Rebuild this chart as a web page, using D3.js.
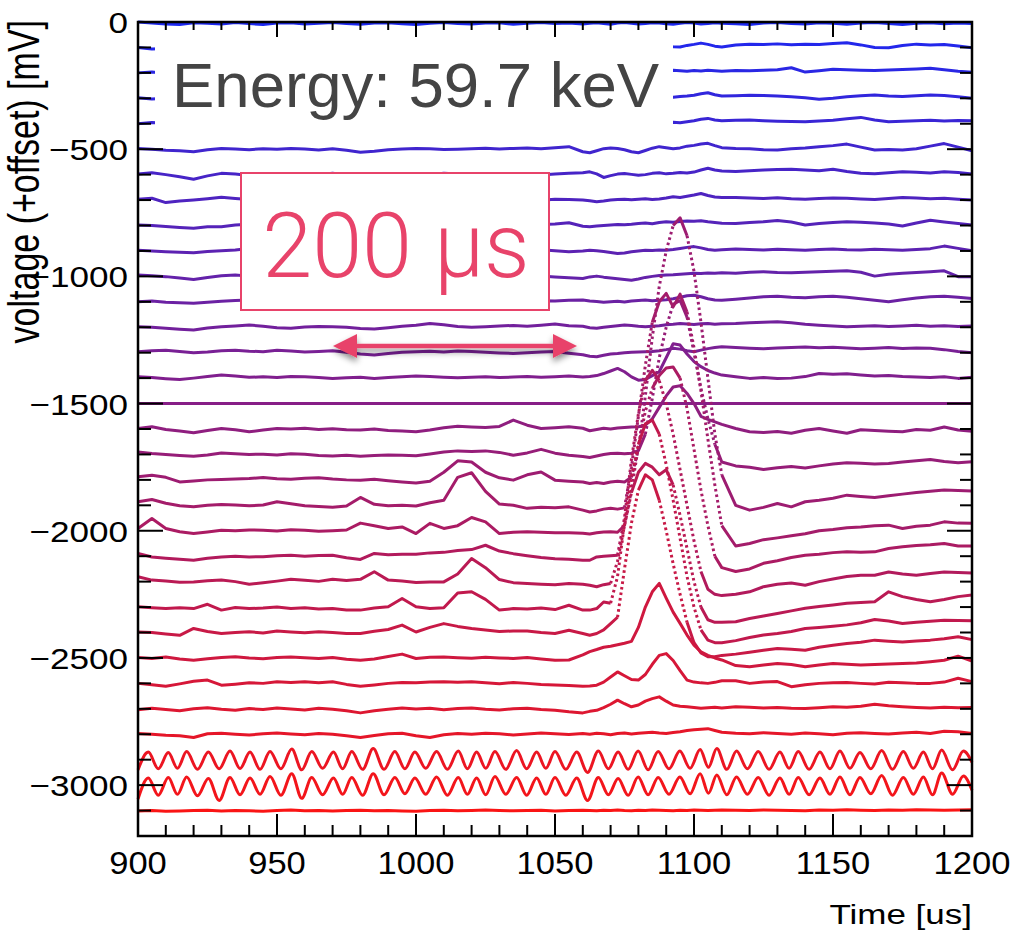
<!DOCTYPE html>
<html><head><meta charset="utf-8">
<script src="https://cdn.jsdelivr.net/npm/d3@7"></script>
<style>body{margin:0;background:#fff}svg{display:block}</style>
</head><body>
<svg id="chart" width="1014" height="935"></svg>
<script>
// ---------- data ----------
const sampleTimes = [900,905,910,915,920,925,930,935,940,945,950,955,960,965,970,975,980,985,990,995,1000,1005,1010,1015,1020,1025,1030,1035,1040,1045,1050,1055,1060,
1062.5,1065,1067.5,1070,1072.5,1075,1077.5,1080,1082.5,1085,1087.5,1090,1092.5,1095,1097.5,1100,1102.5,1105,1107.5,1110,
1115,1120,1125,1130,1135,1140,1145,1150,1155,1160,1165,1170,1175,1180,1185,1190,1195,1200];
const traceOffsets = [0,-100,-200,-300,-400,-500,-600,-700,-800,-900,-1000,-1100,-1200,-1300,-1400,-1500,-1600,-1700,-1800,-1900,-2000,-2100,-2200,-2300,-2400,-2500,-2600,-2700,-2800,-2900,-3000,-3100];
// deviations (mV) from each trace's offset, at sampleTimes
const trace0 = [0,-4,-8,-10,-3,-5,-8,-2,-6,-10,-4,-3,-8,-5,-2,-6,-9,-4,-3,-7,-10,-5,-2,-6,-8,-4,-3,-9,-5,-2,-6,-4,-8,
 -5,-3,-6,-9,-4,-2,-5,-8,-6,-3,-4,-7,-9,-5,-2,-4,-8,-6,-3,-5,
 -7,-10,-4,-2,-6,-8,-3,-5,-9,-4,-2,-6,-10,-5,-3,-7,-4,-6];
const trace1 = [0,-6,-4,2,5,0,-3,4,6,1,-2,3,5,0,-4,2,6,3,-1,4,2,-3,1,5,3,-2,0,4,6,2,-1,3,5,
 4,2,6,3,0,5,7,3,1,4,6,5,3,2,8,12,17,12,5,2,
 10,13,12,14,11,13,12,15,18,10,0,-1,8,13,10,12,6,-1];
const trace2 = [0,3,-2,4,6,1,-3,2,5,3,0,4,-2,1,5,2,-1,3,6,2,0,4,1,-2,3,5,2,0,4,3,-1,2,5,
 3,6,4,1,5,8,4,2,6,9,7,5,10,8,6,9,7,10,8,6,
 9,8,10,12,20,3,8,14,12,10,9,11,13,15,18,12,6,2];
const trace3 = [2,-3,0,4,-2,1,5,0,-4,2,3,-1,4,1,-3,2,5,0,-2,3,1,4,-1,2,6,0,-3,2,4,1,-2,3,5,
 2,4,6,3,5,7,4,6,3,5,8,6,4,7,9,12,18,22,14,9,
 10,12,11,9,6,2,-4,0,6,10,13,9,7,10,13,11,6,0];
const trace4 = [0,5,2,-2,3,0,4,1,-3,2,5,0,-2,3,1,4,0,-3,2,5,1,-1,3,2,-2,4,1,0,3,-1,2,4,1,
 3,0,4,2,5,1,3,6,2,4,5,3,6,4,8,12,18,21,15,12,
 14,15,12,10,9,8,11,14,20,25,15,8,10,12,14,11,13,12];
const trace5 = [3,0,-4,-6,-10,-2,3,1,-2,2,0,3,1,-3,2,-4,-12,-8,-2,1,3,2,-1,0,2,4,1,3,5,2,6,10,-10,
 -14,-6,2,5,3,-2,-10,-14,-5,4,10,6,2,5,12,15,20,23,14,6,
 3,2,-2,-3,2,5,10,14,20,8,-3,-1,-3,2,12,22,8,-6];
const trace6 = [2,7,0,-8,-18,-5,5,2,-3,4,1,-2,3,0,5,-1,2,4,-3,1,3,0,5,2,-2,1,4,0,3,-1,2,5,7,
 11,3,-11,-4,2,4,1,-2,0,5,7,3,5,8,6,10,18,25,18,14,
 12,15,18,20,21,18,15,21,12,5,3,7,11,9,6,11,8,2];
const trace7 = [3,7,-10,-4,0,5,11,6,2,-2,4,1,-3,2,5,0,3,-1,4,2,-2,1,5,3,0,-3,2,4,1,-1,3,2,0,
 -3,-7,-4,0,2,3,1,3,5,2,4,8,13,10,15,20,26,18,12,10,
 10,8,6,9,5,3,6,8,7,4,2,6,10,8,5,7,3,0];
const trace8 = [2,0,-4,-8,-11,-5,-5,2,5,1,-2,3,0,4,-1,2,5,0,-3,2,4,1,-2,3,0,5,2,-1,3,4,6,11,-3,
 -5,-2,0,2,4,3,5,8,10,7,12,15,13,16,18,17,19,15,12,9,
 8,12,15,20,14,2,8,12,15,13,10,6,-2,10,21,14,8,2];
const trace9 = [3,0,-3,-5,-7,-2,1,4,10,5,2,-1,3,0,-2,4,1,-3,2,5,0,-2,3,1,4,-1,2,0,3,5,1,-3,0,
 3,1,-2,-6,-10,-8,-3,0,3,2,4,3,6,10,14,17,12,6,3,5,
 8,6,4,7,5,3,6,8,5,4,7,5,3,6,9,19,10,1];
const trace10 = [5,2,-1,-6,-12,-4,2,5,1,-2,3,0,-3,2,4,-1,1,3,-2,0,4,2,-1,3,1,-3,2,0,4,1,-2,-5,-8,
 -2,1,-3,-6,-9,-12,-15,-10,-4,0,3,5,6,8,10,12,11,13,12,14,
 12,16,18,15,14,16,18,20,22,16,1,8,12,15,18,22,-1,-1];
const trace11 = [0,3,-2,-4,-6,-2,2,5,7,3,0,-2,4,1,-1,3,5,2,-3,0,4,1,2,-2,3,5,0,2,-1,4,3,6,7,
 3,1,-2,0,2,-1,3,5,7,4,6,8,12,18,24,26,20,12,7,6,
 10,15,20,22,18,16,20,22,18,12,6,0,8,15,20,22,18,13];
const trace12 = [2,0,-4,-8,-11,-3,2,5,9,4,-2,-4,1,3,2,0,-5,-7,-2,4,8,15,10,3,0,2,5,7,4,8,13,6,4,
 -2,-4,0,3,6,9,7,4,2,4,6,10,12,15,13,11,14,15,12,14,
 15,18,20,22,18,12,8,5,2,4,6,3,5,8,4,6,3,5];
const trace13 = [4,8,10,5,0,3,8,10,6,4,10,7,3,5,8,2,-5,-9,-3,2,4,6,3,7,5,2,-1,-3,0,3,5,-2,-8,
 -14,-16,-10,-5,-3,0,2,3,4,5,8,12,17,14,8,4,10,16,20,23,
 20,17,15,18,20,22,19,21,18,15,17,20,16,18,17,12,5,0];
const trace14 = [5,2,-2,-5,0,6,12,8,3,5,2,6,5,2,-1,1,3,-1,2,5,8,6,3,1,3,5,2,4,6,3,5,8,4,
 6,10,18,28,38,25,5,-8,-5,10,25,80,135,130,95,65,45,30,20,12,
 5,-1,2,-1,0,6,18,15,17,12,8,10,6,4,2,5,-1,3];
const trace15 = [0,0,0,0,0,0,0,0,0,0,0,0,0,0,0,0,0,0,0,0,0,0,0,0,0,0,0,0,0,0,0,0,0,
 0,0,0,0,0,0,0,0,0,0,0,0,0,0,0,0,0,0,0,0,
 0,0,0,0,0,0,0,0,0,0,0,0,0,0,0,0,0,0];
const trace16 = [2,9,-2,-8,-15,-6,2,-3,-11,-4,2,0,3,-2,1,-3,-4,0,-6,-8,-11,-4,5,11,8,6,10,35,15,2,5,9,3,
 -7,-2,3,0,4,6,8,9,15,40,85,130,165,170,140,100,50,38,28,18,
 2,-11,-14,-10,-17,-5,2,-8,-17,-3,-6,-9,-11,-2,-5,8,-4,-9];
const trace17 = [10,4,0,-4,-7,-2,6,3,0,1,-2,3,1,-4,-6,-3,-7,-4,-2,-3,-5,2,10,14,12,14,8,-3,6,20,5,-3,-8,
 -12,-6,0,4,5,3,5,15,80,220,380,500,590,605,540,400,260,140,40,-30,
 -45,-50,-59,-52,-47,-53,-45,-38,-33,-35,-38,-36,-30,-25,-20,-28,-33,-29];
const trace18 = [12,18,10,-8,-4,0,1,3,5,9,4,2,6,8,3,0,-1,2,-3,-8,-12,-5,30,75,70,30,8,-1,20,31,-1,-5,-8,
 -14,-10,-14,-8,-5,-8,10,120,330,560,760,900,1000,1030,960,820,620,400,180,20,
 -100,-119,-108,-93,-106,-86,-80,-72,-60,-65,-69,-62,-56,-50,-45,-40,-42,-44];
const trace19 = [14,23,8,-2,-6,0,3,1,-2,1,14,6,-2,-5,-8,-3,31,4,-2,0,-3,10,20,110,128,55,5,0,-12,-8,-10,-6,-19,
 -26,-22,-15,-12,-15,-10,150,350,550,720,800,833,780,830,760,620,450,260,80,-80,
 -160,-150,-135,-128,-120,-112,-100,-95,-88,-85,-80,-78,-91,-82,-78,-65,-70,-71];
const trace20 = [9,48,9,-4,-11,-5,2,0,3,2,-1,4,2,-2,0,3,30,20,9,15,-11,29,9,20,52,35,-11,-6,-4,-6,-8,-8,-10,
 -13,-8,-5,-4,-6,20,160,330,470,560,610,640,644,600,480,320,160,20,-100,-145,
 -160,-150,-128,-118,-105,-96,-92,-86,-83,-85,-83,-70,-63,-58,-55,-50,-60,-60];
const trace21 = [11,-3,-8,-12,-16,-8,-3,0,-3,-2,2,4,0,3,4,-6,-13,11,6,8,8,13,15,22,26,43,20,10,2,-5,-10,-12,-16,
 -16,-3,0,2,4,150,380,560,690,731,690,600,480,340,200,60,-60,-130,-150,-155,
 -150,-140,-120,-110,-105,-114,-100,-90,-80,-75,-75,-62,-70,-75,-68,-62,-64,-66];
const trace22 = [19,6,2,-2,-1,3,6,0,-10,-4,2,9,5,1,9,4,9,39,6,2,-3,-1,-1,30,91,55,8,-4,-7,-10,-12,-7,-10,
 -14,-20,-12,-7,80,220,350,430,465,450,420,440,380,260,130,0,-100,-150,-160,-160,
 -158,-145,-135,-125,-115,-105,-98,-92,-85,-82,-79,-40,-59,-70,-79,-70,-59,-53];
const trace23 = [1,-3,-6,-3,-6,11,-12,-2,-6,-4,0,-6,-3,-8,-6,-12,-12,-4,1,34,1,-6,-3,55,60,30,-12,-6,-8,-4,-10,7,-12,
 -12,-6,20,15,120,330,510,640,720,735,680,560,420,270,120,0,-90,-130,-140,-140,
 -132,-120,-110,-104,-96,-84,-80,-75,-70,-62,-49,-55,-65,-60,-56,-52,-53,-54];
const trace24 = [2,0,-6,-11,16,4,-4,0,3,-2,6,2,-1,3,0,-4,-4,5,12,29,2,20,35,24,16,10,4,6,6,0,-4,9,-4,
 -11,-4,10,35,60,250,430,560,620,600,520,400,270,150,40,-40,-80,-95,-95,-90,
 -85,-78,-70,-63,-66,-70,-58,-50,-43,-38,-30,-34,-37,-33,-30,-25,-17,-28];
const trace25 = [2,-2,4,-4,-9,-3,2,5,0,-3,2,4,1,-2,2,-5,-9,-4,6,15,-2,3,4,1,-1,3,0,-2,2,-4,-9,-8,12,
 25,33,42,46,52,58,65,120,200,260,293,235,180,136,90,50,24,10,0,-8,
 -30,-35,-28,-22,-26,-35,-28,-22,-25,-28,-26,-24,-22,-20,-15,-9,7,-12];
const trace26 = [0,-5,-11,-2,8,13,-7,-3,2,0,6,3,6,2,6,-4,-11,-6,0,3,2,5,6,4,6,2,-1,3,0,-4,-6,-8,-11,
 -10,-7,5,25,45,30,15,13,35,75,110,117,90,50,13,5,2,0,4,10,
 10,0,5,7,-13,-5,0,2,3,0,-2,4,2,0,0,5,20,7];
const trace27 = [-4,2,-3,-8,0,4,-2,-6,1,-3,3,-1,-5,2,-2,-8,-16,-8,-2,3,-1,2,-4,1,3,-2,-5,0,2,-3,-6,-12,-16,
 -10,-6,5,18,34,20,8,15,30,40,47,30,15,10,8,5,2,4,6,3,
 8,6,3,5,2,1,4,8,6,10,18,12,8,5,3,6,4,5];
const trace28 = [3,0,-4,-6,-13,2,4,0,-3,2,5,1,-2,3,0,-6,-13,-5,2,4,-6,-13,-2,3,0,4,2,-3,1,5,2,-1,3,
 0,4,2,-2,3,5,1,4,6,8,5,3,7,10,15,18,20,22,15,8,
 4,2,6,3,0,5,2,-2,4,6,3,1,5,8,3,12,10,3];
const trace31 = [-2,0,-3,-2,0,1,-2,0,-1,-3,0,2,-1,0,-2,0,1,-1,0,-2,-3,0,1,-1,0,2,0,-1,0,1,-2,0,1,
 0,-1,1,0,2,0,-1,1,0,2,1,0,-1,1,0,2,1,0,1,2,
 1,0,2,1,0,-1,2,1,3,1,0,2,1,3,2,1,2,3];
// the two ringing traces (-2900, -3000 mV): extremes
const oscTimes = [900,903.7,907.3,910.9,914.2,917.5,921.4,925.3,929.2,933.1,936.7,940.3,943.9,947.5,951.4,955.3,958.9,962.5,966.4,970.3,
 973.6,976.9,980.8,984.6,988.5,992.4,996,999.6,1003.5,1007.4,1011.3,1015.2,1018.5,1021.8,1025.1,1028.4,1032.3,1036.2,1039.8,1043.4,
 1046.7,1050,1053.9,1057.8,1061.7,1065.6,1069.2,1072.7,1076.3,1079.9,1083.5,1087.1,1091,1094.9,1098.6,1102.2,1105.2,1108.2,1111.8,1115.3,
 1119.2,1123.1,1127,1130.9,1134.2,1137.5,1141.4,1145.3,1148.9,1152.5,1156.1,1159.7,1163.6,1167.5,1171.4,1175.3,1178.9,1182.5,1185.8,1189.1,
 1193,1196.9,1200];
const osc2900 = [-40,30,-36,28,-34,32,-38,30,-36,34,-35,30,-38,32,-36,42,-40,32,-34,30,
 -36,32,-38,44,-38,32,-36,30,-34,32,-38,34,-36,30,-34,32,-38,36,-36,30,
 -34,32,-38,30,-50,34,-36,30,-38,34,-40,32,-36,34,-34,40,-30,44,-38,34,
 -36,32,-38,30,-34,32,-38,30,-36,34,-34,28,-36,36,-38,32,-34,30,-36,38,
 -40,34,-10];
const osc3000 = [-55,28,-40,30,-36,32,-42,26,-60,30,-38,28,-36,34,-40,45,-52,30,-38,28,
 -36,30,-40,45,-38,30,-34,28,-36,32,-40,30,-36,28,-38,34,-36,30,-40,28,
 -36,30,-40,28,-60,30,-38,26,-40,32,-38,30,-36,32,-34,45,-32,40,-38,32,
 -36,30,-40,28,-36,30,-38,28,-36,32,-38,30,-34,38,-40,30,-36,32,-38,48,
 -36,36,-20];
const traceDeviations = [trace0,trace1,trace2,trace3,trace4,trace5,trace6,trace7,trace8,trace9,trace10,
 trace11,trace12,trace13,trace14,trace15,trace16,trace17,trace18,trace19,trace20,trace21,trace22,trace23,
 trace24,trace25,trace26,trace27,trace28,osc2900,osc3000,trace31];
const oscIndices = [29,30];
const xTickValues = [900,950,1000,1050,1100,1150,1200];
const xTickLabels = ["900","950","1000","1050","1100","1150","1200"];
const yTickValues = [0,-500,-1000,-1500,-2000,-2500,-3000];
const yTickLabels = ["0","\u2212500","\u22121000","\u22121500","\u22122000","\u22122500","\u22123000"];

// ---------- chart ----------
const svg = d3.select("#chart");
const FONT = "'Liberation Sans', Arial, Helvetica, sans-serif";
const PINK = "#e8436a";
const x = d3.scaleLinear().domain([900, 1200]).range([138, 972]);
const y = d3.scaleLinear().domain([-3200, 0]).range([836, 22]);
const color = i => d3.interpolateRgb("#1c28f2", "#fa1414")(i / 31);

const defs = svg.append("defs");
const f = defs.append("filter").attr("id", "shadow").attr("x", "-20%").attr("y", "-60%").attr("width", "140%").attr("height", "260%");
f.append("feDropShadow").attr("dx", 0).attr("dy", 4).attr("stdDeviation", 3).attr("flood-color", "#000").attr("flood-opacity", 0.45);

const gTraces = svg.append("g").attr("fill", "none").attr("stroke-linejoin", "round");
traceOffsets.forEach((off, i) => {
  const c = color(i);
  const dev = traceDeviations[i];
  if (oscIndices.includes(i)) {
    const n = Math.min(oscTimes.length, dev.length);
    const pts = d3.range(n).map(k => [x(oscTimes[k]), y(off + dev[k])]);
    gTraces.append("path").attr("d", d3.line().curve(d3.curveMonotoneX)(pts))
      .attr("stroke", c).attr("stroke-width", 3);
    return;
  }
  const n = Math.min(sampleTimes.length, dev.length);
  const pts = d3.range(n).map(k => [x(sampleTimes[k]), y(off + dev[k])]);
  // split into runs: steep parts are drawn dotted (sparse samples), the rest solid
  const runs = [];
  let cur = null;
  for (let k = 0; k < pts.length - 1; k++) {
    const dx = pts[k + 1][0] - pts[k][0], dy = pts[k + 1][1] - pts[k][1];
    const steep = Math.abs(dy) > 3 * Math.abs(dx);
    if (!cur || cur.steep !== steep) { cur = { steep, pts: [pts[k]] }; runs.push(cur); }
    cur.pts.push(pts[k + 1]);
  }
  runs.forEach(r => {
    gTraces.append("path").attr("d", d3.line()(r.pts))
      .attr("stroke", c)
      .attr("stroke-width", 3)
      .attr("stroke-dasharray", r.steep ? "2.6 3" : null);
  });
});

// frame and ticks
const gAx = svg.append("g").attr("stroke", "#000");
gAx.append("rect").attr("x", 138).attr("y", 22).attr("width", 834).attr("height", 814)
  .attr("fill", "none").attr("stroke-width", 2.5);
x.ticks(30).forEach(v => {
  const major = v % 50 === 0;
  gAx.append("line").attr("x1", x(v)).attr("x2", x(v)).attr("y1", 836).attr("y2", 836 - (major ? 22 : 11)).attr("stroke-width", 2);
  gAx.append("line").attr("x1", x(v)).attr("x2", x(v)).attr("y1", 22).attr("y2", 22 + (major ? 15 : 8)).attr("stroke-width", 2);
});
y.ticks(32).forEach(v => {
  const major = v % 500 === 0;
  gAx.append("line").attr("x1", 138).attr("x2", 138 + (major ? 25 : 13)).attr("y1", y(v)).attr("y2", y(v)).attr("stroke-width", 2);
  gAx.append("line").attr("x1", 972).attr("x2", 972 - (major ? 25 : 12)).attr("y1", y(v)).attr("y2", y(v)).attr("stroke-width", 2);
});

// tick labels
const gLab = svg.append("g").attr("font-family", FONT).attr("fill", "#000");
yTickValues.forEach((v, k) => {
  gLab.append("text").attr("transform", `translate(128,${y(v) + 11}) scale(1.17,1)`)
    .attr("text-anchor", "end").attr("font-size", 30).text(yTickLabels[k]);
});
xTickValues.forEach((v, k) => {
  gLab.append("text").attr("transform", `translate(${x(v)},874) scale(1.08,1)`)
    .attr("text-anchor", "middle").attr("font-size", 32).text(xTickLabels[k]);
});
gLab.append("text").attr("transform", "translate(972,924) scale(1.25,1)")
  .attr("text-anchor", "end").attr("font-size", 28).text("Time [us]");
gLab.append("text").attr("transform", "translate(39,20) scale(1.3,1) rotate(-90)")
  .attr("text-anchor", "end").attr("font-size", 34).text("voltage (+offset) [mV]");

// annotations
svg.append("rect").attr("x", 155).attr("y", 40).attr("width", 518).attr("height", 96).attr("fill", "#fff");
svg.append("text").attr("x", 172).attr("y", 107).attr("font-family", FONT).attr("font-size", 63.5)
  .attr("fill", "#444").text("Energy: 59.7 keV");

svg.append("rect").attr("x", 241).attr("y", 173).attr("width", 308).attr("height", 137)
  .attr("fill", "#fff").attr("stroke", PINK).attr("stroke-width", 2);
svg.append("text").attr("x", 396).attr("y", 277).attr("text-anchor", "middle")
  .attr("font-family", "Roboto, 'Liberation Sans', Arial, sans-serif").attr("font-size", 90).attr("font-weight", 300)
  .attr("fill", PINK).text("200 \u00b5s");

const gArrow = svg.append("g").attr("filter", "url(#shadow)");
gArrow.append("line").attr("x1", 350).attr("x2", 560).attr("y1", 346).attr("y2", 346)
  .attr("stroke", PINK).attr("stroke-width", 4.5);
gArrow.append("path").attr("d", "M333,346 L357,334 L357,358 Z").attr("fill", PINK);
gArrow.append("path").attr("d", "M577,346 L553,334 L553,358 Z").attr("fill", PINK);
</script>
</body></html>
